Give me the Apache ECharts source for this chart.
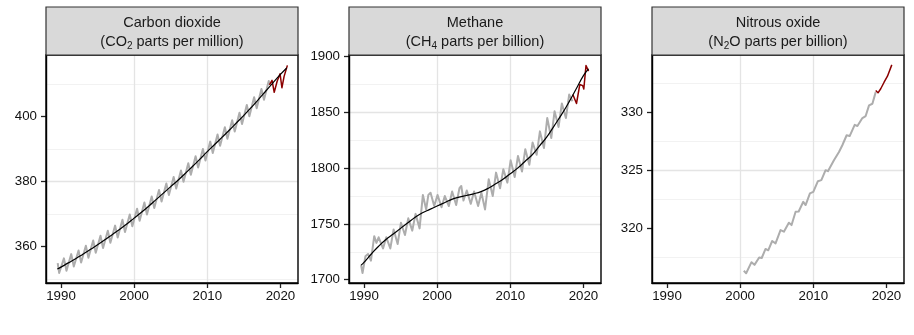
<!DOCTYPE html>
<html><head><meta charset="utf-8">
<script src="https://cdn.jsdelivr.net/npm/echarts@6/dist/echarts.min.js"></script>
<style>
html,body{margin:0;padding:0;background:#fff}
#wrap{position:relative;width:914px;height:335px;background:#fff}
.layer{position:absolute;left:0;top:0;width:914px;height:335px}
</style>
</head><body>
<div id="wrap">
  <div class="layer" id="p0"></div>
  <div class="layer" id="p1"></div>
  <div class="layer" id="p2"></div>
  <div class="layer" id="strips" style="pointer-events:none"></div>
</div>
<script>
// ---------- data ----------
const panelTitles = ['Carbon dioxide', 'Methane', 'Nitrous oxide'];
const panelUnits = [['(CO', '2', ' parts per million)'], ['(CH', '4', ' parts per billion)'], ['(N', '2', 'O parts per billion)']];

const xTicks = [1990, 2000, 2010, 2020];
const co2Ticks = [360, 380, 400];
const ch4Ticks = [1700, 1750, 1800, 1850, 1900];
const n2oTicks = [320, 325, 330];

const co2Observed = [
  [1989.55,354.8],[1989.75,351.8],[1990.4,356.3],[1990.75,352.5],[1991.4,357.6],[1991.75,353.8],
  [1992.4,358.7],[1992.75,355.0],[1993.4,360.2],[1993.75,356.5],[1994.4,361.8],[1994.75,358.0],
  [1995.4,363.3],[1995.75,359.5],[1996.4,364.8],[1996.75,361.1],[1997.4,366.4],[1997.75,362.7],
  [1998.4,368.2],[1998.75,364.4],[1999.4,369.8],[1999.75,366.2],[2000.4,371.6],[2000.75,367.9],
  [2001.4,373.5],[2001.75,369.8],[2002.4,375.4],[2002.75,371.8],[2003.4,377.4],[2003.75,373.8],
  [2004.4,379.4],[2004.75,375.8],[2005.4,381.4],[2005.75,377.8],[2006.4,383.4],[2006.75,379.9],
  [2007.4,385.6],[2007.75,382.1],[2008.4,387.8],[2008.75,384.3],[2009.4,390.0],[2009.75,386.5],
  [2010.4,392.3],[2010.75,388.8],[2011.4,394.5],[2011.75,391.0],[2012.4,396.7],[2012.75,393.2],
  [2013.4,398.9],[2013.75,395.4],[2014.4,401.2],[2014.75,397.7],[2015.4,403.6],[2015.75,400.1],
  [2016.4,406.0],[2016.75,402.6],[2017.4,408.5],[2017.75,405.2],[2018.4,411.0],[2018.5,409.9]
];
const co2Recent = [
  [2018.5,409.8],[2018.85,411.2],[2019.15,407.5],[2019.55,410.9],[2019.95,413.2],
  [2020.2,408.9],[2020.5,412.4],[2020.95,415.8]
];
const co2Trend = [
  [1989.5,353.0],[1990,353.6],[1991,354.9],[1992,356.2],[1993,357.6],[1994,359.0],[1995,360.5],
  [1996,362.0],[1997,363.6],[1998,365.2],[1999,366.9],[2000,368.7],[2001,370.5],[2002,372.4],
  [2003,374.4],[2004,376.4],[2005,378.4],[2006,380.4],[2007,382.5],[2008,384.7],[2009,386.9],
  [2010,389.2],[2011,391.4],[2012,393.6],[2013,395.8],[2014,398.1],[2015,400.4],[2016,402.8],
  [2017,405.3],[2018,407.9],[2019,410.5],[2020,413.0],[2020.85,415.0]
];

const ch4Observed = [
  [1989.6,1713],[1989.8,1706],[1990.2,1721],[1990.55,1723],[1990.95,1717],[1991.4,1739],[1991.7,1733],
  [1992.0,1738],[1992.6,1728],[1993.05,1738],[1993.6,1728],[1994.05,1745],[1994.6,1732],[1995.05,1751],
  [1995.6,1740],[1996.05,1755],[1996.6,1744],[1997.05,1759],[1997.6,1746],[1998.05,1776],[1998.5,1763],
  [1998.8,1776],[1999.1,1778],[1999.6,1766],[2000.05,1776],[2000.6,1765],[2001.05,1775],[2001.6,1766],
  [2002.05,1779],[2002.6,1767],[2003.05,1782],[2003.3,1784],[2003.6,1771],[2004.05,1780],[2004.6,1768],
  [2005.05,1779],[2005.6,1766],[2006.05,1778],[2006.55,1763],[2007.05,1790],[2007.6,1775],[2008.05,1796],
  [2008.6,1782],[2009.05,1799],[2009.6,1787],[2010.05,1807],[2010.6,1792],[2011.05,1811],[2011.6,1797],
  [2012.05,1817],[2012.6,1803],[2013.05,1823],[2013.6,1812],[2014.05,1833],[2014.6,1818],[2015.05,1845],
  [2015.6,1827],[2016.05,1851],[2016.6,1837],[2017.05,1858],[2017.6,1845],[2018.05,1866],[2018.5,1860]
];
const ch4Recent = [
  [2018.55,1866],[2019.05,1858],[2019.5,1875],[2019.9,1874],[2020.05,1871],[2020.35,1892],[2020.7,1887]
];
const ch4Trend = [
  [1989.6,1713],[1990,1715.5],[1991,1723],[1992,1730],[1993,1736],[1994,1741],[1995,1746],[1996,1751],
  [1997,1756],[1998,1760],[1999,1763],[2000,1766],[2001,1769],[2002,1772],[2003,1774],[2004,1775.5],
  [2005,1777],[2006,1779],[2007,1782],[2008,1786],[2009,1790],[2010,1795],[2011,1800],[2012,1806],
  [2013,1812],[2014,1820],[2015,1828],[2016,1838],[2017,1848],[2018,1859],[2019,1871],[2020,1883],[2020.7,1889]
];

const n2oObserved = [
  [2000.5,316.35],[2000.82,316.14],[2001.55,317.09],[2001.96,316.86],[2002.6,317.5],[2002.95,317.45],
  [2003.47,318.23],[2003.84,318.11],[2004.38,318.91],[2004.84,318.71],[2005.52,319.85],[2005.98,319.71],
  [2006.66,320.48],[2007.03,320.28],[2007.58,321.42],[2008.0,321.45],[2008.63,322.28],[2008.95,322.0],
  [2009.54,323.0],[2010.0,323.14],[2010.63,324.05],[2011.1,324.14],[2011.68,325.0],[2012.0,324.91],
  [2012.82,325.85],[2013.51,326.56],[2013.97,327.14],[2014.56,328.0],[2014.97,327.93],[2015.66,328.9],
  [2016.03,328.8],[2016.71,329.48],[2017.16,329.65],[2017.62,330.57],[2018.08,330.71],[2018.53,331.71]
];
const n2oRecent = [
  [2018.53,331.85],[2018.85,331.65],[2019.22,332.0],[2019.68,332.56],[2020.14,333.08],[2020.73,334.05]
];

// ---------- layout / style ----------
const FONT = 'Liberation Sans';
const panelLeft = [46, 349, 652];
const panelWidth = 252;
const panelTop = 55;
const panelHeight = 228;
const xRange = [1987.95, 2022.4];
const yRanges = [[348.7, 419.0], [1697, 1901.5], [315.3, 334.9]];
const yIntervals = [20, 50, 5];
const yTicks = [co2Ticks, ch4Ticks, n2oTicks];
const panelSeries = [
  [[co2Observed, 'obs'], [co2Recent, 'recent'], [co2Trend, 'trend']],
  [[ch4Observed, 'obs'], [ch4Recent, 'recent'], [ch4Trend, 'trend']],
  [[n2oObserved, 'obs'], [n2oRecent, 'recent']]
];
const seriesStyle = {
  obs: { color: '#adadad', width: 2.0, smooth: false, z: 2 },
  recent: { color: '#8b0000', width: 1.5, smooth: false, z: 3 },
  trend: { color: '#000000', width: 1.2, smooth: true, z: 4 }
};

function panelOption(i) {
  const l = panelLeft[i];
  return {
    animation: false,
    grid: [{ left: l, top: panelTop, width: panelWidth, height: panelHeight }],
    xAxis: [{
      type: 'value', min: xRange[0], max: xRange[1], minInterval: 10, maxInterval: 10,
      axisLine: { show: true, lineStyle: { color: '#000', width: 1.4 } },
      axisTick: { show: true, length: 5, customValues: xTicks, lineStyle: { color: '#222', width: 1.3 } },
      axisLabel: { customValues: xTicks, formatter: v => String(v), color: '#111', fontSize: 13.3, fontFamily: FONT, margin: 7 },
      splitLine: { show: true, showMinLine: false, showMaxLine: false, lineStyle: { color: '#e4e4e4', width: 1.3 } }
    }],
    yAxis: [{
      type: 'value', min: yRanges[i][0], max: yRanges[i][1], minInterval: yIntervals[i], maxInterval: yIntervals[i],
      axisLine: { show: true, lineStyle: { color: '#000', width: 1.4 } },
      axisTick: { show: true, length: 5, customValues: yTicks[i], lineStyle: { color: '#222', width: 1.3 } },
      axisLabel: { customValues: yTicks[i], formatter: v => String(v), color: '#111', fontSize: 13.3, fontFamily: FONT, margin: 9 },
      splitLine: { show: true, showMinLine: false, showMaxLine: false, lineStyle: { color: '#e4e4e4', width: 1.3 } },
      minorTick: { show: false, splitNumber: 2 },
      minorSplitLine: { show: true, lineStyle: { color: '#efefef', width: 0.8 } }
    }],
    series: panelSeries[i].map(([data, kind]) => ({
      type: 'line', data: data, symbol: 'none', showSymbol: false, smooth: seriesStyle[kind].smooth,
      z: seriesStyle[kind].z, animation: false,
      lineStyle: { color: seriesStyle[kind].color, width: seriesStyle[kind].width, join: 'round' }
    })),
    graphic: [{
      type: 'rect', z: 60, silent: true,
      shape: { x: l, y: panelTop, width: panelWidth, height: panelHeight },
      style: { fill: 'none', stroke: '#000000', lineWidth: 1.4 }
    }]
  };
}

panelLeft.forEach((l, i) => {
  echarts.init(document.getElementById('p' + i)).setOption(panelOption(i));
});

const stripGraphics = [];
panelLeft.forEach((l, i) => {
  const u = panelUnits[i];
  stripGraphics.push({
    type: 'rect', z: 50, silent: true,
    shape: { x: l, y: 7, width: panelWidth, height: panelTop - 7 },
    style: { fill: '#d9d9d9', stroke: '#333333', lineWidth: 1.2 }
  });
  stripGraphics.push({
    type: 'text', z: 52, silent: true,
    x: l + panelWidth / 2, y: 32.2,
    style: {
      text: '{t|' + panelTitles[i] + '}\n{t|' + u[0] + '}{s|' + u[1] + '}{t|' + u[2] + '}',
      textAlign: 'center', textVerticalAlign: 'middle',
      rich: {
        t: { fontSize: 14.5, lineHeight: 19.4, fontFamily: FONT, fill: '#1a1a1a' },
        s: { fontSize: 10, lineHeight: 10, verticalAlign: 'bottom', fontFamily: FONT, fill: '#1a1a1a' }
      }
    }
  });
});
echarts.init(document.getElementById('strips')).setOption({ animation: false, graphic: stripGraphics });
</script>
</body></html>
